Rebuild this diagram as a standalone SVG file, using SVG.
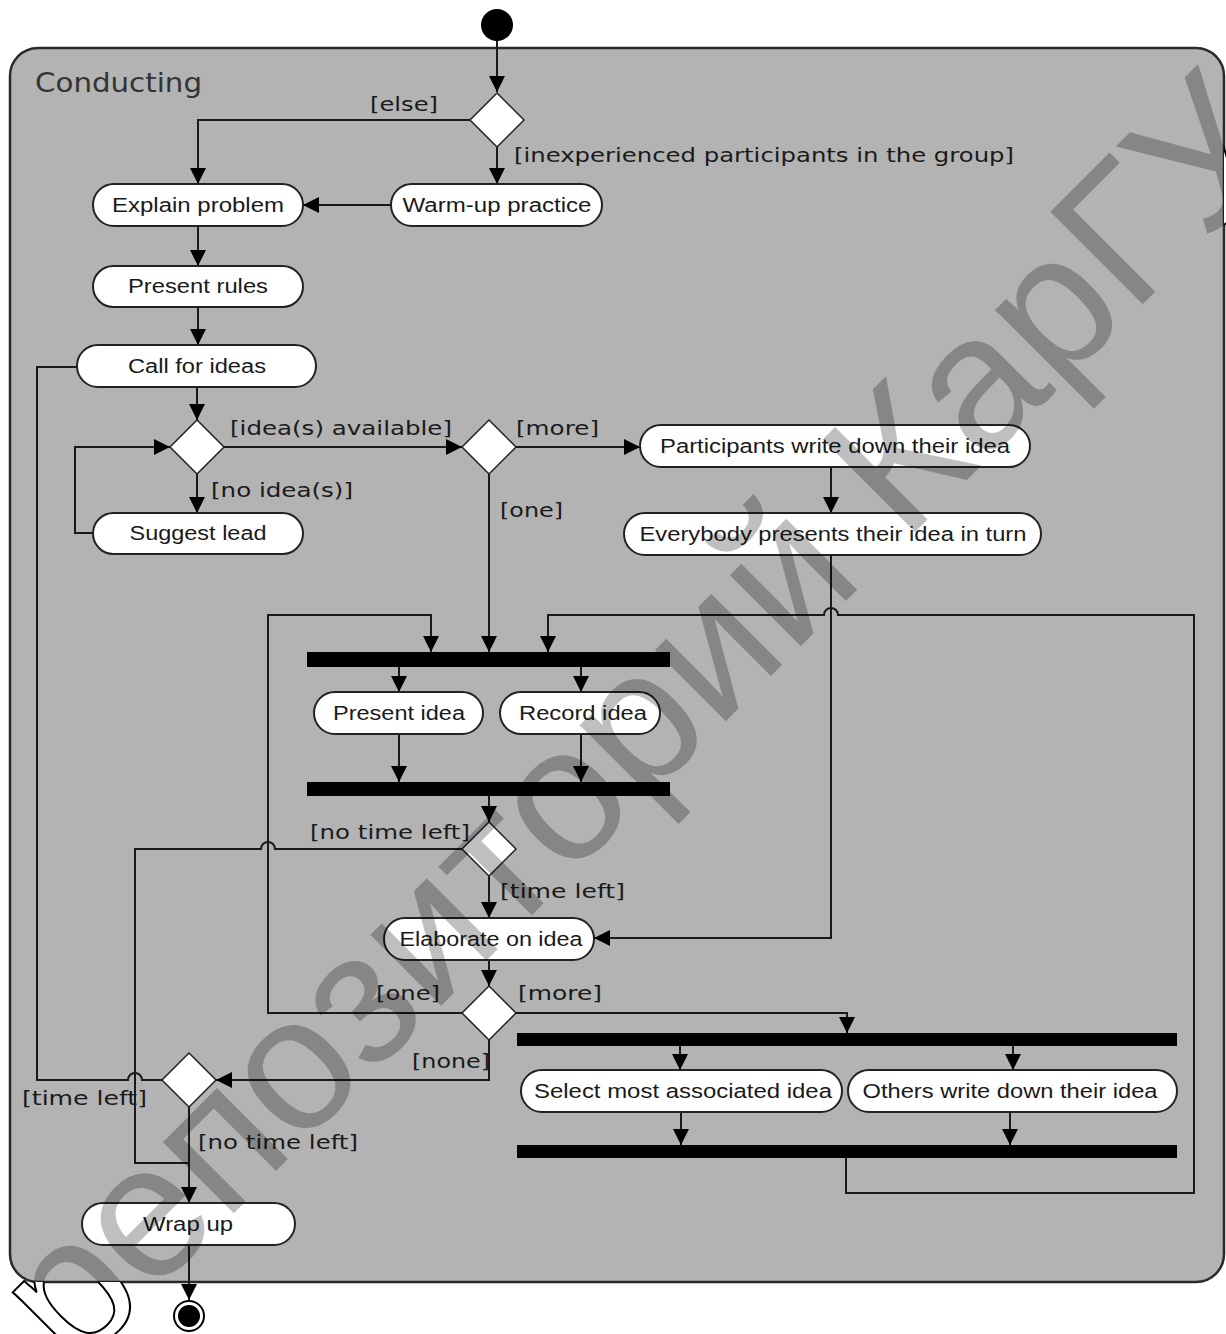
<svg xmlns="http://www.w3.org/2000/svg" width="1226" height="1334" viewBox="0 0 1226 1334">
<style>
.frame{fill:#b3b3b3;stroke:#2a2a2a;stroke-width:2.5}
.act{fill:#fff;stroke:#222;stroke-width:2}
.dec{fill:#fff;stroke:#222;stroke-width:1.5}
.bar{fill:#000}
.ntext{font-family:"Liberation Sans",Arial,sans-serif;font-size:20px;fill:#1a1a1a;text-anchor:middle}
.lbl{font-family:"DejaVu Sans","Liberation Sans",sans-serif;font-size:20px;fill:#1a1a1a}
.title{font-family:"DejaVu Sans","Liberation Sans",sans-serif;font-size:27px;fill:#333}
.edge{fill:none;stroke:#1a1a1a;stroke-width:2}
.arr{marker-end:url(#ah)}
.wm{font-family:"Liberation Sans",Arial,sans-serif;font-size:190px}
</style>
<defs>
<marker id="ah" markerUnits="userSpaceOnUse" markerWidth="16" markerHeight="16" refX="16" refY="8" orient="auto">
<path d="M0,0 L16,8 L0,16 z" fill="#000"/>
</marker>
<clipPath id="inside"><rect x="10" y="48" width="1214" height="1234" rx="28"/></clipPath>
<mask id="outside"><rect width="1226" height="1334" fill="#fff"/><rect x="10" y="48" width="1214" height="1234" rx="28" fill="#000"/></mask>
</defs>
<rect width="1226" height="1334" fill="#fff"/>
<g id="conducting">
<rect class="frame" x="10" y="48" width="1214" height="1234" rx="28"/>
<text class="title" x="35" y="92" textLength="167" lengthAdjust="spacingAndGlyphs">Conducting</text>
</g>
<g id="connectors">
<path class="edge arr" d="M497,41 L497,92"/>
<path class="edge arr" d="M470,120 L198,120 L198,184"/>
<path class="edge arr" d="M497,147 L497,184"/>
<path class="edge arr" d="M391,205 L303,205"/>
<path class="edge arr" d="M198,226 L198,266"/>
<path class="edge arr" d="M198,307 L198,345"/>
<path class="edge arr" d="M197,387 L197,420"/>
<path class="edge arr" d="M197,474 L197,513"/>
<path class="edge arr" d="M93,533 L75,533 L75,447 L170,447"/>
<path class="edge arr" d="M224,447 L462,447"/>
<path class="edge arr" d="M516,447 L640,447"/>
<path class="edge arr" d="M489,474 L489,652"/>
<path class="edge arr" d="M831,467 L831,513"/>
<path class="edge arr" d="M831,555 L831,938 L594,938"/>
<path class="edge arr" d="M846,1158 L846,1193 L1194,1193 L1194,615 L838,615 A7,7 0 0 0 824,615 L548,615 L548,652"/>
<path class="edge arr" d="M462,1013 L268,1013 L268,615 L431,615 L431,652"/>
<path class="edge arr" d="M399,667 L399,692"/>
<path class="edge arr" d="M581,667 L581,692"/>
<path class="edge arr" d="M399,734 L399,782"/>
<path class="edge arr" d="M581,734 L581,782"/>
<path class="edge arr" d="M489,796 L489,822"/>
<path class="edge" d="M462,849 L275,849 A7,7 0 0 0 261,849 L135,849 L135,1163 L189,1163"/>
<path class="edge arr" d="M489,876 L489,918"/>
<path class="edge arr" d="M489,960 L489,986"/>
<path class="edge arr" d="M516,1013 L847,1013 L847,1033"/>
<path class="edge arr" d="M680,1046 L680,1070"/>
<path class="edge arr" d="M1013,1046 L1013,1070"/>
<path class="edge arr" d="M681,1112 L681,1145"/>
<path class="edge arr" d="M1010,1112 L1010,1145"/>
<path class="edge arr" d="M489,1040 L489,1080 L216,1080"/>
<path class="edge" d="M162,1080 L142,1080 A7,7 0 0 0 128,1080 L37,1080 L37,367 L77,367"/>
<path class="edge arr" d="M189,1107 L189,1203"/>
<path class="edge arr" d="M189,1245 L189,1300"/>
</g>
<g id="labels">
<text class="lbl" x="370" y="111" textLength="68" lengthAdjust="spacingAndGlyphs">[else]</text>
<text class="lbl" x="514" y="162" textLength="500" lengthAdjust="spacingAndGlyphs">[inexperienced participants in the group]</text>
<text class="lbl" x="230" y="435" textLength="222" lengthAdjust="spacingAndGlyphs">[idea(s) available]</text>
<text class="lbl" x="516" y="435" textLength="83" lengthAdjust="spacingAndGlyphs">[more]</text>
<text class="lbl" x="211" y="497" textLength="142" lengthAdjust="spacingAndGlyphs">[no idea(s)]</text>
<text class="lbl" x="500" y="517" textLength="63" lengthAdjust="spacingAndGlyphs">[one]</text>
<text class="lbl" x="310" y="839" textLength="160" lengthAdjust="spacingAndGlyphs">[no time left]</text>
<text class="lbl" x="500" y="898" textLength="125" lengthAdjust="spacingAndGlyphs">[time left]</text>
<text class="lbl" x="376" y="1000" textLength="64" lengthAdjust="spacingAndGlyphs">[one]</text>
<text class="lbl" x="518" y="1000" textLength="84" lengthAdjust="spacingAndGlyphs">[more]</text>
<text class="lbl" x="412" y="1068" textLength="78" lengthAdjust="spacingAndGlyphs">[none]</text>
<text class="lbl" x="22" y="1105" textLength="125" lengthAdjust="spacingAndGlyphs">[time left]</text>
<text class="lbl" x="198" y="1149" textLength="160" lengthAdjust="spacingAndGlyphs">[no time left]</text>
</g>
<g id="start"><circle cx="497" cy="25" r="16" fill="#000"/></g>
<g id="decision1"><polygon class="dec" points="497,93 524,120 497,147 470,120"/></g>
<g id="warmup"><rect class="act" x="391" y="184" width="211" height="42" rx="21"/><text class="ntext" x="497" y="212" textLength="189" lengthAdjust="spacingAndGlyphs">Warm-up practice</text></g>
<g id="explain"><rect class="act" x="93" y="184" width="210" height="42" rx="21"/><text class="ntext" x="198" y="212" textLength="172" lengthAdjust="spacingAndGlyphs">Explain problem</text></g>
<g id="rules"><rect class="act" x="93" y="266" width="210" height="41" rx="20.5"/><text class="ntext" x="198" y="293" textLength="140" lengthAdjust="spacingAndGlyphs">Present rules</text></g>
<g id="call"><rect class="act" x="77" y="345" width="239" height="42" rx="21"/><text class="ntext" x="197" y="373" textLength="138" lengthAdjust="spacingAndGlyphs">Call for ideas</text></g>
<g id="decision2"><polygon class="dec" points="197,420 224,447 197,474 170,447"/></g>
<g id="suggest"><rect class="act" x="93" y="513" width="210" height="41" rx="20.5"/><text class="ntext" x="198" y="540" textLength="137" lengthAdjust="spacingAndGlyphs">Suggest lead</text></g>
<g id="decision3"><polygon class="dec" points="489,420 516,447 489,474 462,447"/></g>
<g id="writedown"><rect class="act" x="640" y="425" width="390" height="42" rx="21"/><text class="ntext" x="835" y="453" textLength="350" lengthAdjust="spacingAndGlyphs">Participants write down their idea</text></g>
<g id="everybody"><rect class="act" x="624" y="513" width="417" height="42" rx="21"/><text class="ntext" x="833" y="541" textLength="387" lengthAdjust="spacingAndGlyphs">Everybody presents their idea in turn</text></g>
<g id="fork1"><rect class="bar" x="307" y="652" width="363" height="15"/></g>
<g id="present"><rect class="act" x="314" y="692" width="169" height="42" rx="21"/><text class="ntext" x="399" y="720" textLength="132" lengthAdjust="spacingAndGlyphs">Present idea</text></g>
<g id="record"><rect class="act" x="500" y="692" width="160" height="42" rx="21"/><text class="ntext" x="583" y="720" textLength="128" lengthAdjust="spacingAndGlyphs">Record idea</text></g>
<g id="join1"><rect class="bar" x="307" y="782" width="363" height="14"/></g>
<g id="decision4"><polygon class="dec" points="489,822 516,849 489,876 462,849"/></g>
<g id="elaborate"><rect class="act" x="384" y="918" width="210" height="42" rx="21"/><text class="ntext" x="491" y="946" textLength="183" lengthAdjust="spacingAndGlyphs">Elaborate on idea</text></g>
<g id="decision5"><polygon class="dec" points="489,986 516,1013 489,1040 462,1013"/></g>
<g id="fork2"><rect class="bar" x="517" y="1033" width="660" height="13"/></g>
<g id="select"><rect class="act" x="521" y="1070" width="321" height="42" rx="21"/><text class="ntext" x="683" y="1098" textLength="298" lengthAdjust="spacingAndGlyphs">Select most associated idea</text></g>
<g id="others"><rect class="act" x="848" y="1070" width="329" height="42" rx="21"/><text class="ntext" x="1010" y="1098" textLength="295" lengthAdjust="spacingAndGlyphs">Others write down their idea</text></g>
<g id="join2"><rect class="bar" x="517" y="1145" width="660" height="13"/></g>
<g id="decision6"><polygon class="dec" points="189,1053 216,1080 189,1107 162,1080"/></g>
<g id="wrapup"><rect class="act" x="82" y="1203" width="213" height="42" rx="21"/><text class="ntext" x="188" y="1231" textLength="90" lengthAdjust="spacingAndGlyphs">Wrap up</text></g>
<g id="end"><circle cx="189" cy="1316" r="15" fill="#fff" stroke="#000" stroke-width="2"/><circle cx="189" cy="1316" r="11" fill="#000"/></g>
<g id="watermark">
<g clip-path="url(#inside)"><text class="wm" transform="translate(75 1372) rotate(-45)" fill="#000" fill-opacity="0.25">репозиторий КарГУ</text></g>
<g mask="url(#outside)"><text class="wm" transform="translate(75 1372) rotate(-45)" fill="#fff" stroke="#000" stroke-width="2">репозиторий КарГУ</text></g>
</g>
</svg>
